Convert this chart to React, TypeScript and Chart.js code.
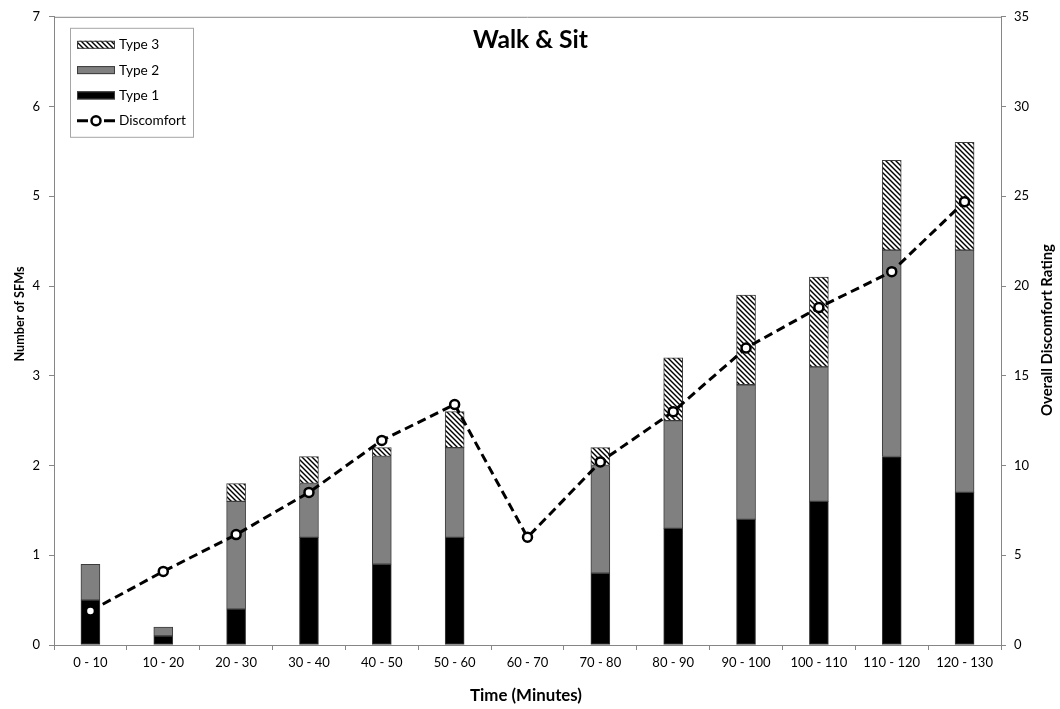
import React, { useEffect, useRef } from "react";
import { Chart, registerables } from "chart.js";

Chart.register(...registerables);

const categories = ["0 - 10", "10 - 20", "20 - 30", "30 - 40", "40 - 50", "50 - 60", "60 - 70", "70 - 80", "80 - 90", "90 - 100", "100 - 110", "110 - 120", "120 - 130"];
const type1 = [0.5, 0.1, 0.4, 1.2, 0.9, 1.2, 0, 0.8, 1.3, 1.4, 1.6, 2.1, 1.7];
const type2 = [0.4, 0.1, 1.2, 0.6, 1.2, 1.0, 0, 1.2, 1.2, 1.5, 1.5, 2.3, 2.7];
const type3 = [0, 0, 0.2, 0.3, 0.1, 0.4, 0, 0.2, 0.7, 1.0, 1.0, 1.0, 1.2];
const discomfort = [1.9, 4.1, 6.15, 8.5, 11.4, 13.4, 6.0, 10.2, 13.0, 16.55, 18.8, 20.8, 24.7];

const TITLE = "Walk & Sit";
const LEFT_TITLE = "Number of SFMs";
const RIGHT_TITLE = "Overall Discomfort Rating";
const X_TITLE = "Time (Minutes)";

const FONT = "Lato, 'Open Sans', sans-serif";
const AXIS_GRAY = "#868686";
const BAR_BORDER = "#3c3c3c";

function makeHatch(): CanvasPattern | string {
  const s = 5;
  const c = document.createElement("canvas");
  c.width = s;
  c.height = s;
  const g = c.getContext("2d");
  if (!g) return "#ccc";
  g.fillStyle = "#fff";
  g.fillRect(0, 0, s, s);
  g.strokeStyle = "#000";
  g.lineWidth = 1.4;
  for (const k of [-s, 0, s]) {
    g.beginPath();
    g.moveTo(k - 1, -1);
    g.lineTo(k + s + 1, s + 1);
    g.stroke();
  }
  const p = g.createPattern(c, "repeat");
  return p || "#ccc";
}

// choose a font size so that the text has the given width
function fitFont(ctx: CanvasRenderingContext2D, text: string, weight: string, width: number): string {
  ctx.font = `${weight} 100px ${FONT}`;
  const w = ctx.measureText(text).width || 1;
  const size = (100 * width) / w;
  return `${weight} ${size.toFixed(2)}px ${FONT}`;
}

export default function App() {
  const ref = useRef<HTMLCanvasElement | null>(null);

  useEffect(() => {
    document.body.style.margin = "0";
    const canvas = ref.current;
    if (!canvas) return;
    const hatch = makeHatch();

    const overlayPlugin = {
      id: "overlay",
      afterDraw(chart: any) {
        const { ctx, chartArea } = chart;
        ctx.save();
        // top border of plot area
        ctx.strokeStyle = AXIS_GRAY;
        ctx.lineWidth = 1;
        ctx.beginPath();
        ctx.moveTo(chartArea.left, chartArea.top + 0.5);
        ctx.lineTo(chartArea.right, chartArea.top + 0.5);
        ctx.stroke();

        ctx.fillStyle = "#000";
        // chart title
        ctx.font = fitFont(ctx, TITLE, "bold", 115);
        ctx.textAlign = "center";
        ctx.textBaseline = "alphabetic";
        ctx.fillText(TITLE, 530.5, 48);

        // x axis title
        ctx.font = fitFont(ctx, X_TITLE, "bold", 112);
        ctx.textBaseline = "middle";
        ctx.fillText(X_TITLE, 526, 696);

        // left axis title
        ctx.save();
        ctx.font = fitFont(ctx, LEFT_TITLE, "bold", 95);
        ctx.translate(20, 314);
        ctx.rotate(-Math.PI / 2);
        ctx.fillText(LEFT_TITLE, 0, 0);
        ctx.restore();

        // right axis title
        ctx.save();
        ctx.font = fitFont(ctx, RIGHT_TITLE, "bold", 172);
        ctx.translate(1047, 330);
        ctx.rotate(-Math.PI / 2);
        ctx.fillText(RIGHT_TITLE, 0, 0);
        ctx.restore();

        // legend
        const bx = chartArea.left + 16;
        const by = chartArea.top + 11;
        const bw = 123;
        const bh = 109;
        ctx.strokeStyle = "#a6a6a6";
        ctx.lineWidth = 1;
        ctx.strokeRect(bx + 0.5, by + 0.5, bw, bh);
        const ds = chart.data.datasets;
        const items = [ds[2], ds[1], ds[0], ds[3]];
        const sx = bx + 7;
        const sw = 38;
        const legendFont = fitFont(ctx, "Discomfort", "normal", 67);
        items.forEach((d: any, i: number) => {
          const cy = by + 17 + i * 25.3;
          if (d.type === "line") {
            ctx.strokeStyle = "#000";
            ctx.lineWidth = 3;
            ctx.beginPath();
            ctx.moveTo(sx, cy);
            ctx.lineTo(sx + 11, cy);
            ctx.moveTo(sx + sw - 11, cy);
            ctx.lineTo(sx + sw, cy);
            ctx.stroke();
            ctx.beginPath();
            ctx.arc(sx + sw / 2, cy, 4.5, 0, Math.PI * 2);
            ctx.fillStyle = "#fff";
            ctx.fill();
            ctx.lineWidth = 2.5;
            ctx.stroke();
          } else {
            ctx.fillStyle = d.backgroundColor;
            ctx.fillRect(sx, cy - 4, sw, 8);
            ctx.strokeStyle = BAR_BORDER;
            ctx.lineWidth = 1;
            ctx.strokeRect(sx + 0.5, cy - 4 + 0.5, sw - 1, 7);
          }
          ctx.fillStyle = "#000";
          ctx.font = legendFont;
          ctx.textAlign = "left";
          ctx.textBaseline = "middle";
          ctx.fillText(d.label, sx + sw + 4, cy);
        });
        ctx.restore();
      },
    };

    const tickFont = { family: FONT, size: 13 };

    const chart = new Chart(canvas, {
      type: "bar",
      data: {
        labels: categories,
        datasets: [
          {
            type: "bar",
            label: "Type 1",
            data: type1,
            backgroundColor: "#000000",
            borderColor: BAR_BORDER,
            borderWidth: 1,
            borderSkipped: false,
            barThickness: 19,
            yAxisID: "y",
            order: 2,
          },
          {
            type: "bar",
            label: "Type 2",
            data: type2,
            backgroundColor: "#808080",
            borderColor: BAR_BORDER,
            borderWidth: 1,
            borderSkipped: false,
            barThickness: 19,
            yAxisID: "y",
            order: 2,
          },
          {
            type: "bar",
            label: "Type 3",
            data: type3,
            backgroundColor: hatch as any,
            borderColor: BAR_BORDER,
            borderWidth: 1,
            borderSkipped: false,
            barThickness: 19,
            yAxisID: "y",
            order: 2,
          },
          {
            type: "line",
            label: "Discomfort",
            data: discomfort,
            yAxisID: "y1",
            borderColor: "#000000",
            borderWidth: 3,
            borderDash: [9, 5],
            pointRadius: 4.5,
            pointBackgroundColor: "#ffffff",
            pointBorderColor: "#000000",
            pointBorderWidth: 2.5,
            tension: 0,
            fill: false,
            order: 0,
          } as any,
        ],
      },
      options: {
        responsive: false,
        animation: false,
        events: [],
        layout: { padding: { top: 15, left: 0, right: 0, bottom: 0 } },
        plugins: {
          legend: { display: false },
          tooltip: { enabled: false },
          title: { display: false },
        },
        scales: {
          x: {
            type: "category",
            stacked: true,
            offset: true,
            grid: {
              display: true,
              offset: true,
              drawOnChartArea: false,
              drawTicks: true,
              tickLength: 5,
              color: AXIS_GRAY,
            },
            border: { display: true, color: AXIS_GRAY, width: 1 },
            ticks: { font: tickFont, color: "#000", padding: 5, maxRotation: 0, autoSkip: false },
            title: { display: false, text: X_TITLE },
            afterFit: (s: any) => {
              s.height = 64;
            },
          },
          y: {
            type: "linear",
            position: "left",
            stacked: true,
            min: 0,
            max: 7,
            ticks: { stepSize: 1, font: tickFont, color: "#000", padding: 9 },
            grid: { display: true, drawOnChartArea: false, drawTicks: true, tickLength: 5, color: AXIS_GRAY },
            border: { display: true, color: AXIS_GRAY, width: 1 },
            title: { display: false, text: LEFT_TITLE },
            afterFit: (s: any) => {
              s.width = 54;
            },
          },
          y1: {
            type: "linear",
            position: "right",
            stacked: false,
            min: 0,
            max: 35,
            ticks: { stepSize: 5, font: tickFont, color: "#000", padding: 8 },
            grid: { display: true, drawOnChartArea: false, drawTicks: true, tickLength: 5, color: AXIS_GRAY },
            border: { display: true, color: AXIS_GRAY, width: 1 },
            title: { display: false, text: RIGHT_TITLE },
            afterFit: (s: any) => {
              s.width = 59;
            },
          },
        },
      } as any,
      plugins: [overlayPlugin],
    });

    return () => {
      chart.destroy();
    };
  }, []);

  return (
    <div style={{ width: 1060, height: 709, background: "#fff" }}>
      <canvas ref={ref} width={1060} height={709} style={{ display: "block", width: 1060, height: 709 }} />
    </div>
  );
}
